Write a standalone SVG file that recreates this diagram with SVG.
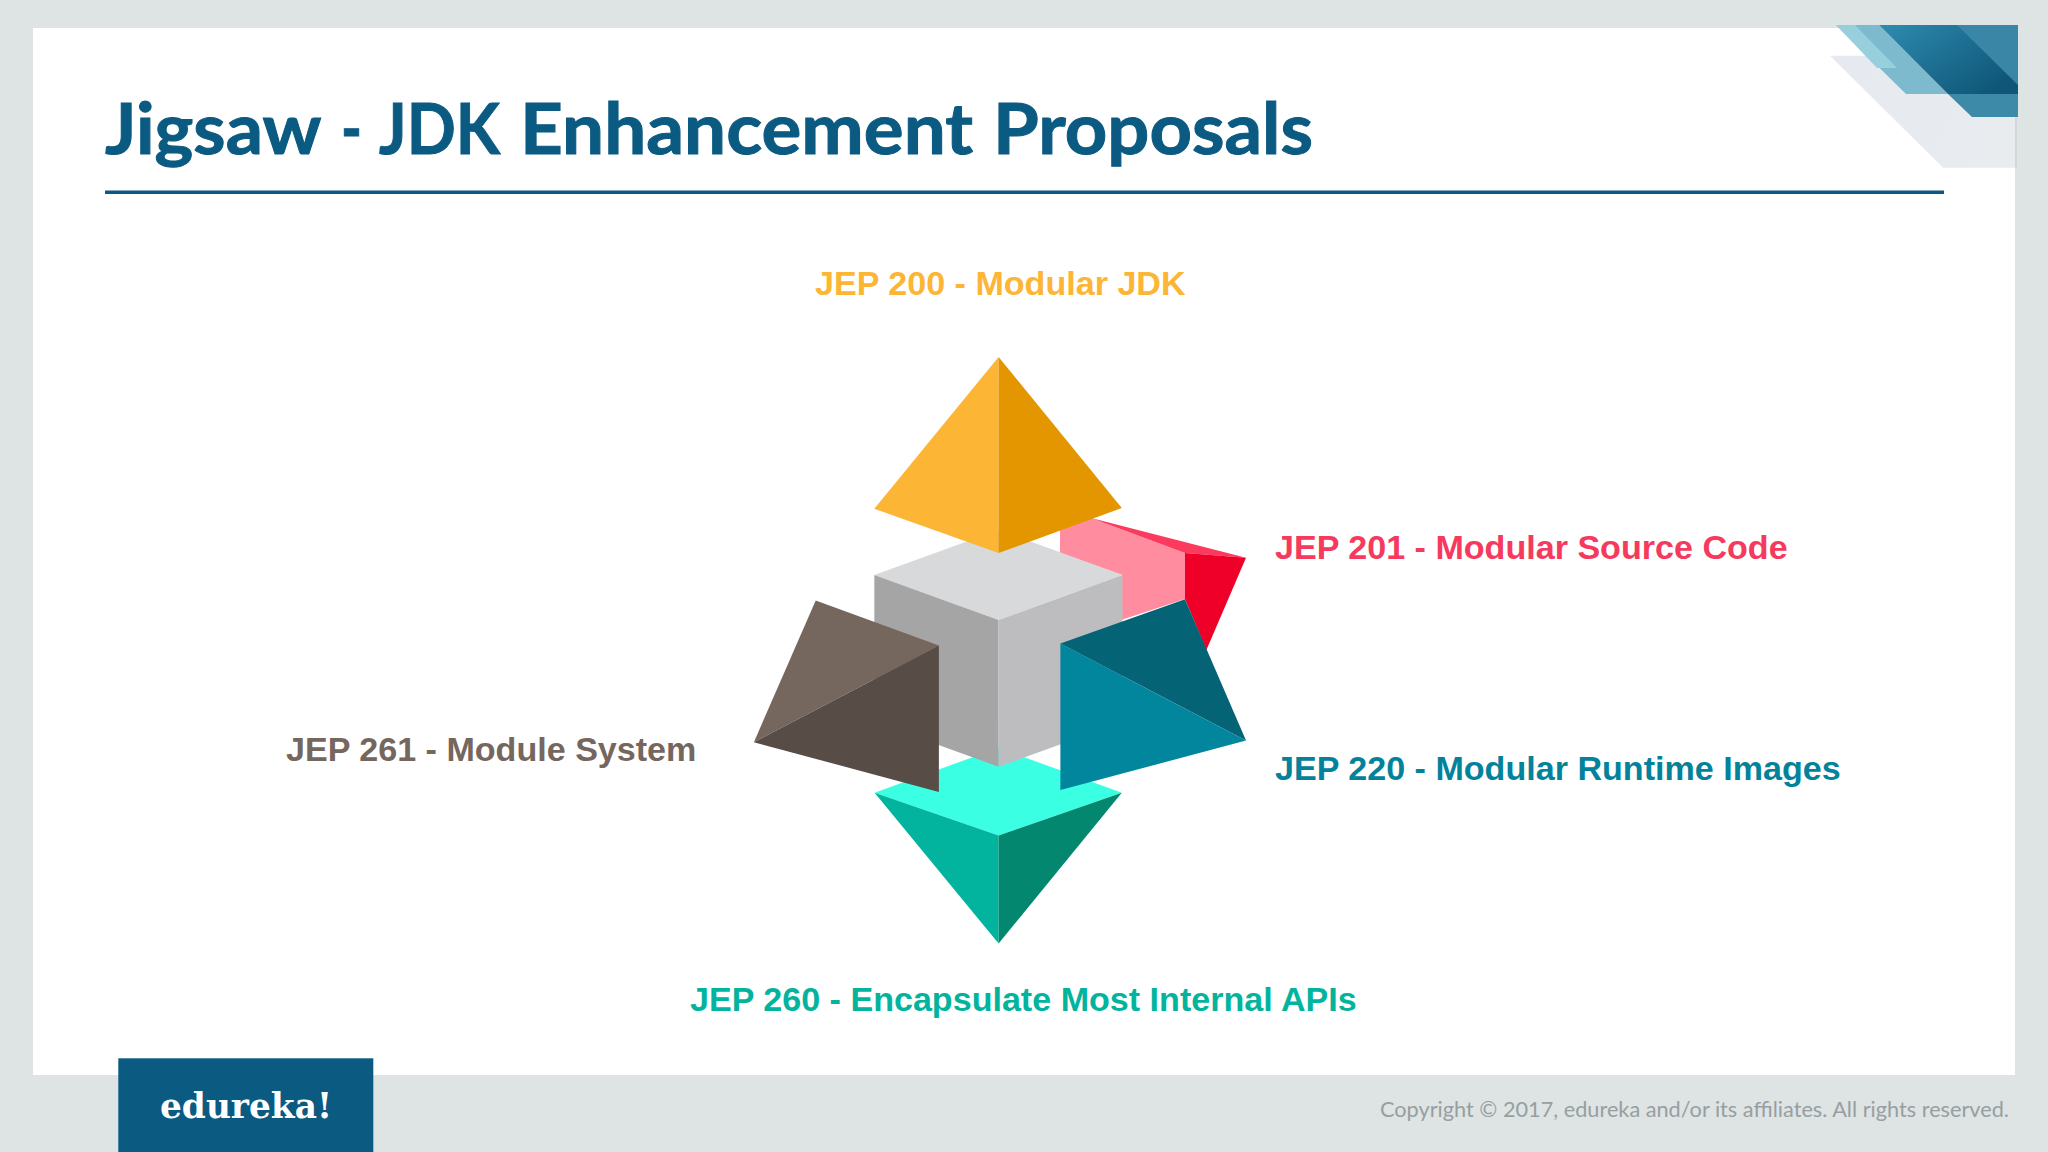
<svg xmlns="http://www.w3.org/2000/svg" width="2048" height="1152" viewBox="0 0 2048 1152">
<style>
.lbl{font-family:"Liberation Sans",Arial,sans-serif;font-weight:700;font-size:34.1px}
</style>
<defs>
<linearGradient id="blueGrad" x1="0" y1="0" x2="1" y2="0.7">
<stop offset="0" stop-color="#2e8cb0"/><stop offset="1" stop-color="#0f5678"/>
</linearGradient>
<linearGradient id="paleGrad" x1="0" y1="0" x2="1" y2="0.3">
<stop offset="0" stop-color="#e6e9ef"/><stop offset="1" stop-color="#e8ecef"/>
</linearGradient>
</defs>
<rect id="background" width="2048" height="1152" fill="#dee3e3"/>
<rect id="slide" x="33" y="28" width="1982" height="1047" fill="#ffffff"/>
<g id="corner-decoration">
<polygon points="1830,55.7 2015,55.7 2015,167.7 1943,167.7" fill="url(#paleGrad)"/>
<rect x="2015" y="118" width="2" height="50" fill="#d3d6da"/>
<polygon points="1836,25 1879,25 1948,94 1906,94" fill="#7dbacd"/>
<polygon points="1836,25 1855,25 1897,68 1877,68" fill="#97cfdc"/>
<polygon points="1948,94 2018,94 2018,117 1972,117" fill="#3d8aa8"/>
<polygon points="1879,25 2018,25 2018,94 1948,94" fill="url(#blueGrad)"/>
<polygon points="1957,25 2018,25 2018,85" fill="#3a86a6"/>
</g>
<g id="title">
<text y="154" font-family="Lato,'Open Sans',sans-serif" font-weight="700" font-size="71" fill="#0b5a82" stroke="#0b5a82" stroke-width="1"><tspan x="105" textLength="215" lengthAdjust="spacingAndGlyphs">Jigsaw</tspan> <tspan x="341" textLength="21" lengthAdjust="spacingAndGlyphs">-</tspan> <tspan x="379" textLength="121" lengthAdjust="spacingAndGlyphs">JDK</tspan> <tspan x="520" textLength="453" lengthAdjust="spacingAndGlyphs">Enhancement</tspan> <tspan x="993" textLength="320" lengthAdjust="spacingAndGlyphs">Proposals</tspan></text>
<rect x="105" y="190.5" width="1839" height="3.5" fill="#0b5a82"/>
</g>
<g id="jep-201-red">
<polygon points="1060,530 1091,518 1185,553 1185,599 1121,620 1122,575 1060,553" fill="#ff8d9f"/>
<polygon points="1091,518 1246,557.8 1185,553" fill="#fb3a5e"/>
<polygon points="1185,553 1246,557.8 1206.4,650 1185,599" fill="#ee0028"/>
</g>
<g id="jep-260-teal">
<polygon points="874.6,792.8 998.6,747.8 1121.8,792.8 998.6,835.4" fill="#3bffe3"/>
<polygon points="874.6,792.8 998.6,835.4 998.6,943.5" fill="#02b49e"/>
<polygon points="1121.8,792.8 998.6,835.4 998.6,943.5" fill="#03876f"/>
</g>
<g id="core-cube">
<polygon points="874.3,575 998.6,530 1122.5,575 998.6,620" fill="#d8d9da"/>
<polygon points="874.3,575 998.6,620 998.6,766.7 874.3,721.7" fill="#a5a5a5"/>
<polygon points="1122.5,575 998.6,620 998.6,766.7 1122.5,721.7" fill="#bdbdbf"/>
</g>
<g id="jep-200-orange">
<polygon points="998.6,357 874.3,508.8 998.6,553" fill="#fcb534"/>
<polygon points="998.6,357 1121.8,508 998.6,553" fill="#e49600"/>
</g>
<g id="jep-261-brown">
<polygon points="815.7,600.4 938.9,645.4 753.9,742.2" fill="#75665e"/>
<polygon points="938.9,645.4 938.9,792 753.9,742.2" fill="#574c46"/>
</g>
<g id="jep-220-blue">
<polygon points="1185,599.2 1060.4,643.4 1246,740.6" fill="#056376"/>
<polygon points="1060.4,643.4 1246,740.6 1060.4,790" fill="#02869e"/>
</g>
<g id="labels">
<text class="lbl" x="815" y="295" fill="#fcb534">JEP 200 - Modular JDK</text>
<text class="lbl" x="1275" y="559" fill="#f53a5e">JEP 201 - Modular Source Code</text>
<text class="lbl" x="1275" y="779.5" fill="#02839b">JEP 220 - Modular Runtime Images</text>
<text class="lbl" x="286" y="760.5" fill="#75665e">JEP 261 - Module System</text>
<text class="lbl" x="690" y="1011" fill="#02b49e">JEP 260 - Encapsulate Most Internal APIs</text>
</g>
<g id="logo">
<rect x="118.3" y="1058.3" width="255" height="94" fill="#0a5a82"/>
<text x="160" y="1118" font-family="'DejaVu Serif',serif" font-weight="700" font-size="36" fill="#ffffff" textLength="172" lengthAdjust="spacingAndGlyphs">edureka!</text>
</g>
<text id="copyright" x="1380" y="1117" font-family="Lato,'Open Sans',sans-serif" font-size="21" fill="#969fa1" textLength="629" lengthAdjust="spacingAndGlyphs">Copyright © 2017, edureka and/or its affiliates. All rights reserved.</text>
</svg>
